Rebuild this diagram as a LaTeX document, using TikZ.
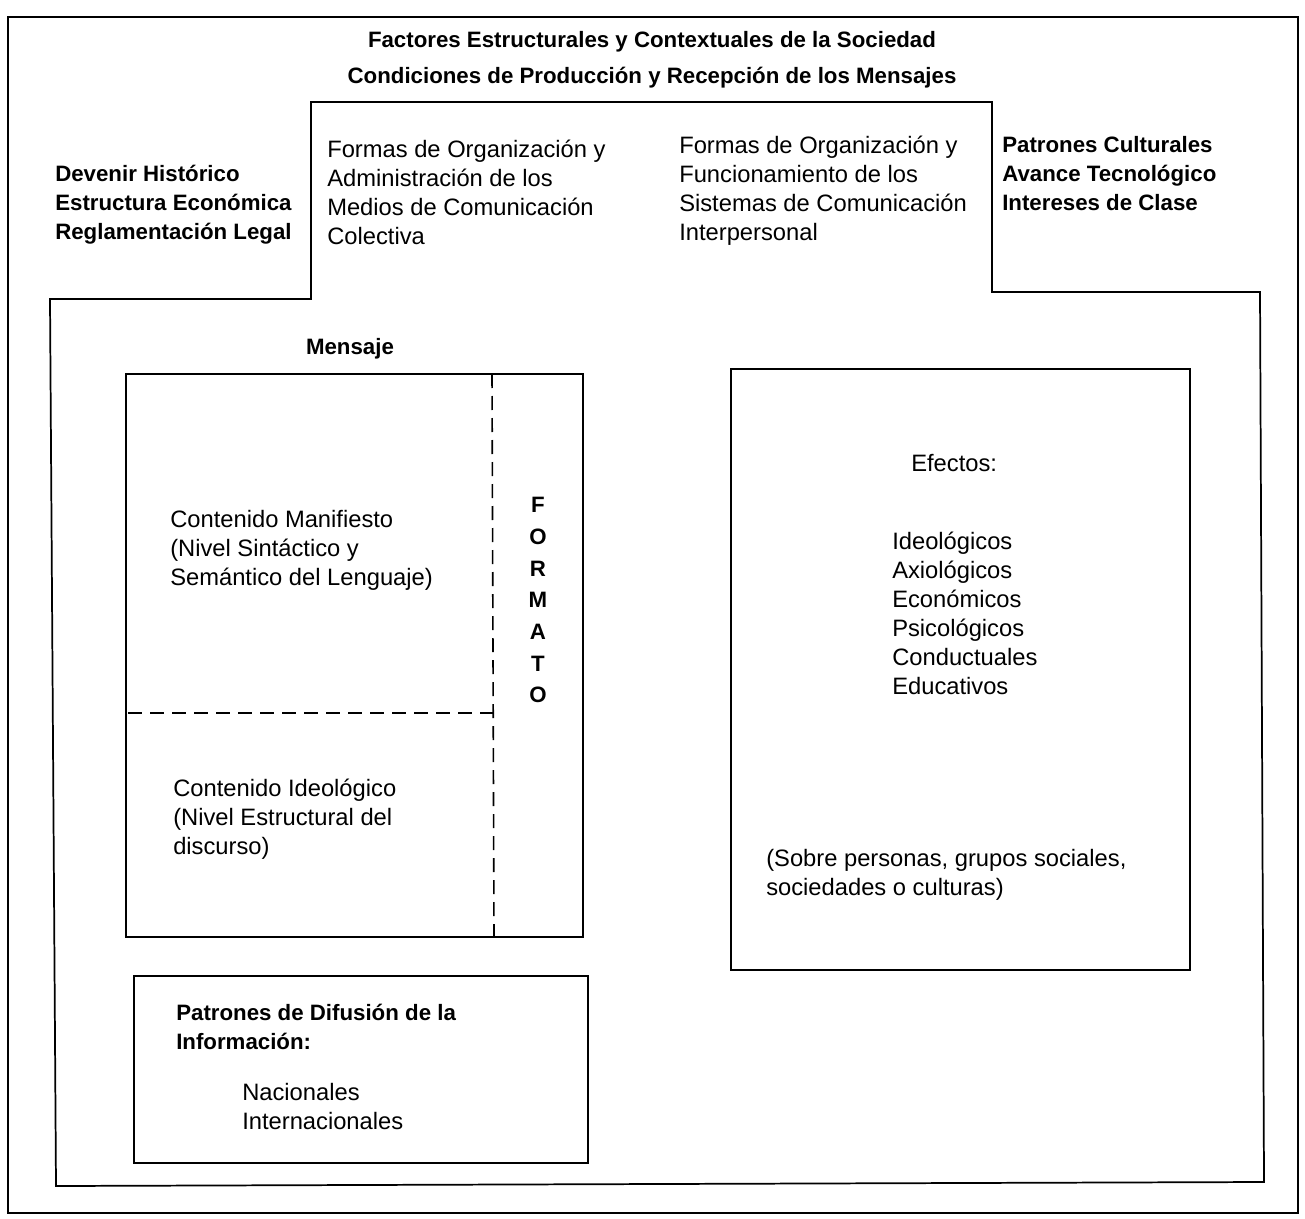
\documentclass[tikz,border=0pt]{standalone}
\usepackage{fontspec}
\setmainfont{Liberation Sans}
\tikzset{
  txt/.style={inner sep=0pt, align=left, anchor=north west, font=\fontsize{17.8}{21.75}\selectfont},
  btxt/.style={txt, font=\fontsize{16.7}{21.75}\selectfont\bfseries},
  frame/.style={line width=1.3pt},
  dashline/.style={line width=1.2pt, dash pattern=on 10.5pt off 6pt},
}
\begin{document}
\begin{tikzpicture}[x=0.75pt,y=0.75pt,yscale=-1,xscale=1]
\useasboundingbox (0,0) rectangle (1305,1219);

%Shape: outer page frame
\draw [line width=1pt] (8,17) rectangle (1298,1213) ;
%Shape: stepped frame of the society
\draw [frame] (50,299) -- (311,299) -- (311,102) -- (992,102) -- (992,292) -- (1260,292) -- (1264,1182) -- (56,1186) -- cycle ;

%Shape: Rectangle (Mensaje)
\draw [frame] (126,374) rectangle (583,937) ;
%Straight Lines
\draw [dashline] (492,374) -- (494,937) ;
\draw [dashline] (128,713) -- (493,713) ;

%Shape: Rectangle (Efectos)
\draw [frame] (731,369) rectangle (1190,970) ;

%Shape: Rectangle (Difusion)
\draw [frame] (134,976) rectangle (588,1163) ;


% Text Node
\draw (652,48) node [btxt, anchor=base] (factores) {Factores Estructurales y Contextuales de la Sociedad};
% Text Node
\draw (652,84) node [btxt, anchor=base] (condiciones) {Condiciones de Producción y Recepción de los Mensajes};
% Text Node
\draw (55,165) node [btxt] (devenir) {Devenir Histórico\\Estructura Económica\\Reglamentación Legal};
% Text Node
\draw (327,140) node [txt] (colectiva) {Formas de Organización y\\Administración de los\\Medios de Comunicación\\Colectiva};
% Text Node
\draw (679,136) node [txt] (interpersonal) {Formas de Organización y\\Funcionamiento de los\\Sistemas de Comunicación\\Interpersonal};
% Text Node
\draw (1002,136) node [btxt] (patrones) {Patrones Culturales\\Avance Tecnológico\\Intereses de Clase};
% Text Node
\draw (350,354) node [btxt, anchor=base] (mensaje) {Mensaje};
% Text Node
\draw (170,510) node [txt] (manifiesto) {Contenido Manifiesto\\(Nivel Sintáctico y\\Semántico del Lenguaje)};
% Text Node
\draw (173,779) node [txt] (ideologico) {Contenido Ideológico\\(Nivel Estructural del\\discurso)};
% Text Node
\foreach \l [count=\i] in {F,O,R,M,A,T,O}
  \draw (538,481+31.7*\i) node [btxt, anchor=base] (formato\i) {\l};
% Text Node
\draw (911,471) node [txt, anchor=base west] (efectos) {Efectos:};
% Text Node
\draw (892,532) node [txt] (tipos) {Ideológicos\\Axiológicos\\Económicos\\Psicológicos\\Conductuales\\Educativos};
% Text Node
\draw (766,849) node [txt] (sobre) {(Sobre personas, grupos sociales,\\sociedades o culturas)};
% Text Node
\draw (176,1004) node [btxt] (difusion) {Patrones de Difusión de la\\Información:};
% Text Node
\draw (242,1083) node [txt] (alcance) {Nacionales\\Internacionales};


\end{tikzpicture}
\end{document}
